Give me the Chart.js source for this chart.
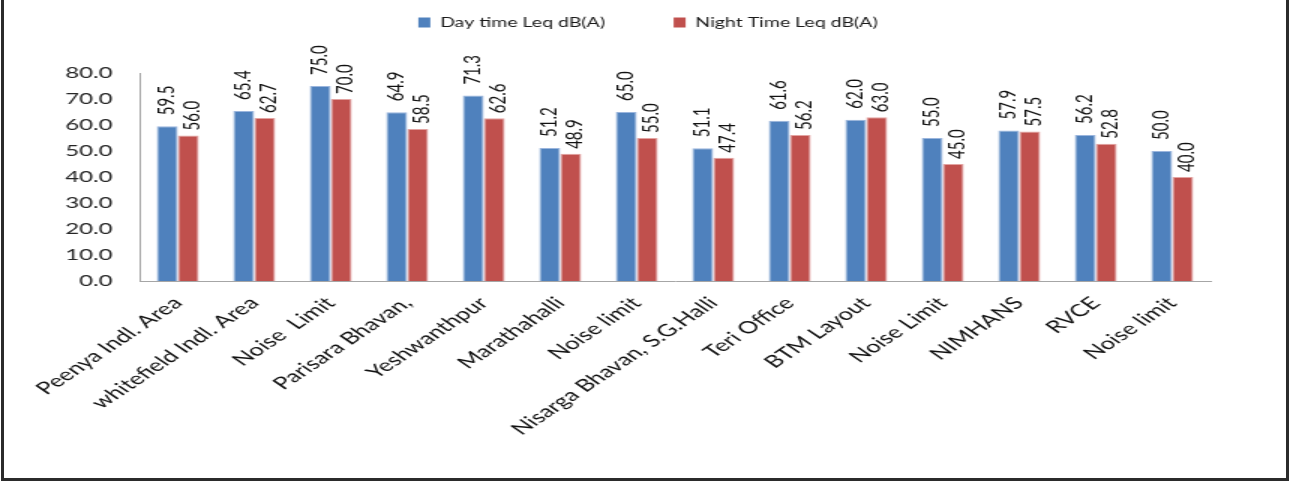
<!DOCTYPE html>
<html>
<head>
<meta charset="utf-8">
<title>Day / Night Leq</title>
<script src="https://cdn.jsdelivr.net/npm/chart.js@4.4.1/dist/chart.umd.min.js"></script>
<style>
  html,body{margin:0;padding:0;background:#fff;overflow:hidden;}
  #stage{position:relative;width:1296px;height:485px;}
  /* the source picture is stretched sideways, so draw narrow and widen it */
  #wrap{position:absolute;left:0;top:0;width:864px;height:485px;transform:scaleX(1.5);transform-origin:0 0;}
  #frame{position:absolute;left:1px;top:0;width:1282px;height:478px;border:3px solid #2b2b2b;border-top:none;pointer-events:none;}
</style>
</head>
<body>
<div id="stage">
  <div id="wrap"><canvas id="leqChart" width="864" height="485"></canvas></div>
  <div id="frame"></div>
</div>
<script>
// Data
const stations = ['Peenya Indl. Area', 'whitefield Indl. Area', 'Noise  Limit', 'Parisara Bhavan,',
  'Yeshwanthpur', 'Marathahalli', 'Noise limit', 'Nisarga Bhavan, S.G.Halli', 'Teri Office',
  'BTM Layout', 'Noise Limit', 'NIMHANS', 'RVCE', 'Noise limit'];
const dayLeq   = [59.5, 65.4, 75.0, 64.9, 71.3, 51.2, 65.0, 51.1, 61.6, 62.0, 55.0, 57.9, 56.2, 50.0];
const nightLeq = [56.0, 62.7, 70.0, 58.5, 62.6, 48.9, 55.0, 47.4, 56.2, 63.0, 45.0, 57.5, 52.8, 40.0];
const seriesNames = ['Day time Leq dB(A)', 'Night Time Leq dB(A)'];
const yMin = 0, yMax = 80, yStep = 10;

const BLUE = '#4f81bd', RED = '#c0504d';

Chart.defaults.font.family = 'Lato, "Open Sans", sans-serif';
Chart.defaults.color = '#1a1a1a';

// push the plot down below the legend, and centre the legend on the whole canvas
const legendGap = {
  id: 'legendGap',
  beforeInit(chart){
    const fit = chart.legend.fit;
    chart.legend.fit = function(){ fit.call(this); this.height += 34; };
  },
  afterLayout(chart){
    const lg = chart.legend;
    lg.left = 0; lg.right = chart.width; lg.width = chart.width;
  }
};

// vertical value labels above the bars
const barValues = {
  id: 'barValues',
  afterDatasetsDraw(chart){
    const ctx = chart.ctx;
    ctx.save();
    ctx.font = '15px Lato, sans-serif';
    ctx.fillStyle = '#111';
    ctx.textAlign = 'left';
    ctx.textBaseline = 'middle';
    chart.data.datasets.forEach((ds, di)=>{
      const shift = di === 0 ? 0 : 3, lift = di === 0 ? 11 : 5;
      chart.getDatasetMeta(di).data.forEach((bar, i)=>{
        ctx.save();
        ctx.translate(bar.x + shift, bar.y - lift);
        ctx.rotate(-Math.PI/2);
        ctx.fillText(ds.data[i].toFixed(1), 0, 0);
        ctx.restore();
      });
    });
    ctx.restore();
  }
};

new Chart(document.getElementById('leqChart'), {
  type: 'bar',
  data: {
    labels: stations,
    datasets: [
      {label: seriesNames[0], data: dayLeq, backgroundColor: BLUE, borderColor: '#9ab5dd', borderWidth: 1},
      {label: seriesNames[1], data: nightLeq, backgroundColor: RED, borderColor: '#e3a3a1', borderWidth: 1}
    ]
  },
  options: {
    responsive: false,
    animation: false,
    layout: {padding: {top: 6, left: 0, right: 57, bottom: 0}},
    datasets: {bar: {categoryPercentage: 0.55, barPercentage: 1.0}},
    plugins: {
      tooltip: {enabled: false},
      legend: {
        position: 'top',
        labels: {
          boxWidth: 8, boxHeight: 10, padding: 10,
          color: '#1a1a1a',
          font: {size: 13},
          generateLabels(chart){
            const items = Chart.defaults.plugins.legend.labels.generateLabels(chart);
            items.forEach(it=>{ it.lineWidth = 0; });
            items[0].text += '\u2003\u2003\u2003\u2002';
            return items;
          }
        }
      }
    },
    scales: {
      x: {
        grid: {display: false, drawTicks: false},
        border: {color: '#a6a6a6', width: 1},
        ticks: {autoSkip: false, minRotation: 45, maxRotation: 45, padding: 12, color: '#111', font: {size: 17}},
        afterFit(s){ s.height = 204; }
      },
      y: {
        min: yMin, max: yMax,
        grid: {display: false, drawTicks: false},
        border: {color: '#a6a6a6', width: 1},
        ticks: {stepSize: yStep, padding: 18, color: '#262626', font: {size: 16}, callback: v => v.toFixed(1)},
        afterFit(s){ s.width = 93; }
      }
    }
  },
  plugins: [legendGap, barValues]
});
</script>
</body>
</html>
